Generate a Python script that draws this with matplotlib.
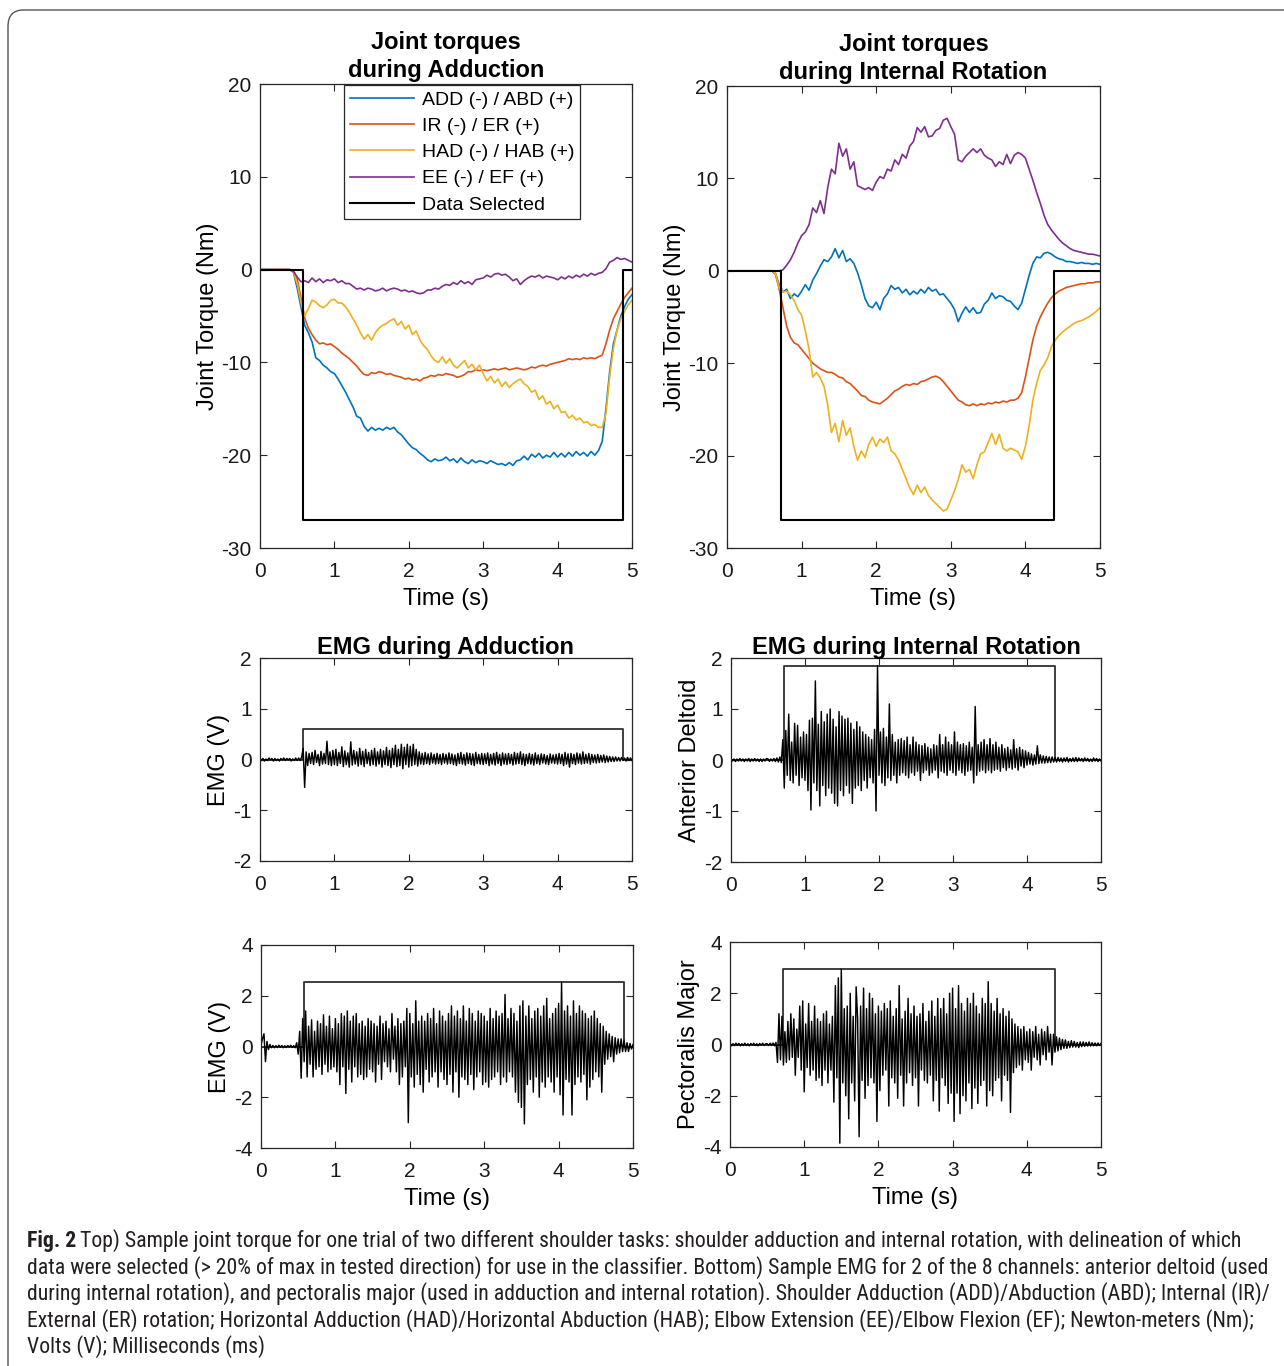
import numpy as np
import matplotlib
matplotlib.use("Agg")
import matplotlib.pyplot as plt
from matplotlib import font_manager
from matplotlib.patches import FancyBboxPatch
from matplotlib.lines import Line2D

plt.rcParams['font.family'] = ['Liberation Sans', 'DejaVu Sans']
plt.rcParams['axes.unicode_minus'] = False

# time grids (torque sampled every 0.05 s, EMG every 0.02 s)
t_torque = np.linspace(0, 5, 101)
t_emg = np.linspace(0, 5, 251)

labels = ['ADD (-) / ABD (+)', 'IR (-) / ER (+)', 'HAD (-) / HAB (+)', 'EE (-) / EF (+)', 'Data Selected']
colors = ['#0072BD', '#D95319', '#EDB120', '#7E2F8E']

# ---- joint torques during adduction (Nm)
add_ADD = [0, 0, 0, 0, 0, 0, 0, 0, 0, -0.3,
           -2.0, -4.0, -6.0, -6.8, -7.8, -9.5, -9.8, -10.3, -10.6, -11.0,
           -11.2, -11.8, -12.5, -13.2, -14.0, -14.8, -15.8, -16.0, -16.9, -17.4,
           -17.0, -17.3, -17.1, -17.3, -17.0, -17.2, -17.0, -17.5, -17.8, -18.3,
           -18.8, -19.2, -19.4, -19.8, -20.1, -20.5, -20.7, -20.4, -20.6, -20.5,
           -20.2, -20.6, -20.4, -20.8, -20.3, -20.7, -20.9, -20.5, -20.8, -20.6,
           -20.7, -20.9, -20.6, -20.8, -21.0, -20.9, -21.1, -20.8, -21.1, -20.6,
           -20.5, -20.1, -20.5, -19.9, -20.2, -19.8, -20.3, -20.0, -20.2, -19.7,
           -20.2, -19.8, -20.2, -19.7, -20.1, -19.6, -20.0, -19.7, -20.1, -19.6,
           -20.0, -19.5, -18.5, -15.0, -11.0, -8.0, -6.5, -5.0, -4.0, -3.2,
           -2.7]
add_IR = [0, 0, 0, 0, 0, 0, 0, 0, 0, -0.1,
          -1.0, -3.0, -5.2, -6.3, -7.0, -7.6, -8.0, -7.9, -8.1, -8.0,
          -8.3, -8.6, -9.0, -9.3, -9.6, -10.0, -10.4, -10.9, -11.3, -11.4,
          -11.1, -11.2, -11.0, -11.1, -11.3, -11.2, -11.4, -11.5, -11.6, -11.8,
          -11.7, -11.9, -11.8, -12.0, -11.7, -11.6, -11.4, -11.5, -11.3, -11.4,
          -11.2, -11.3, -11.4, -11.6, -11.5, -11.3, -11.0, -11.0, -10.8, -10.9,
          -10.8, -10.9, -10.8, -10.7, -10.8, -10.7, -10.6, -10.8, -10.7, -10.6,
          -10.7, -10.8, -10.7, -10.5, -10.6, -10.4, -10.3, -10.4, -10.2, -10.1,
          -10.0, -9.9, -9.8, -9.6, -9.7, -9.6, -9.7, -9.5, -9.6, -9.5,
          -9.6, -9.4, -9.2, -8.0, -6.5, -5.3, -4.5, -3.7, -3.0, -2.5,
          -2.0]
add_HAD = [0, 0, 0, 0, 0, 0, 0, 0, 0, -0.3,
           -1.5, -3.5, -5.0, -4.2, -3.3, -3.5, -3.9, -4.1, -3.8, -3.3,
           -3.2, -3.6, -3.6, -4.0, -4.6, -5.3, -6.0, -6.8, -7.5, -7.0,
           -7.6, -6.8, -6.3, -6.0, -5.8, -5.5, -5.3, -6.0, -5.6, -6.4,
           -6.0, -7.0, -6.6, -7.6, -8.2, -8.6, -9.3, -9.8, -10.0, -9.4,
           -10.1, -9.6, -10.3, -10.6, -10.2, -9.8, -10.6, -10.2, -10.8, -10.3,
           -11.2, -12.0, -11.5, -12.2, -11.8, -12.6, -12.1, -12.7, -12.3, -12.0,
           -11.8, -12.3, -12.6, -13.2, -13.0, -14.0, -13.6, -14.5, -14.2, -15.0,
           -14.6, -15.4, -15.3, -16.0, -15.7, -16.2, -16.0, -16.5, -16.4, -16.8,
           -16.7, -17.0, -17.0, -15.5, -11.5, -8.5, -6.5, -5.3, -4.5, -3.8,
           -3.3]
add_EE = [0, 0, 0, 0, 0, 0, 0, 0, 0, -0.2,
          -0.8, -1.3, -1.2, -1.4, -0.9, -1.3, -1.0, -1.4, -1.1, -1.2,
          -1.0, -1.4, -1.2, -1.5, -1.5, -1.8, -2.1, -2.0, -2.2, -2.0,
          -2.1, -2.3, -2.2, -2.0, -2.3, -2.1, -2.0, -2.1, -2.3, -2.2,
          -2.4, -2.3, -2.5, -2.6, -2.5, -2.2, -2.2, -2.0, -2.1, -1.8,
          -1.6, -1.7, -1.4, -1.6, -1.2, -1.5, -1.3, -1.6, -1.1, -1.0,
          -0.9, -0.6, -0.8, -0.5, -0.4, -0.6, -0.5, -0.8, -1.2, -1.0,
          -1.6, -1.2, -0.9, -0.7, -0.8, -0.6, -0.9, -0.7, -0.8, -0.9,
          -1.1, -0.8, -1.0, -0.7, -0.9, -0.6, -0.8, -0.5, -0.7, -0.4,
          -0.6, -0.4, -0.3, 0.1, 0.8, 1.0, 1.3, 1.1, 1.2, 1.0,
          0.8]

# ---- joint torques during internal rotation (Nm)
ir_ADD = [0, 0, 0, 0, 0, 0, 0, 0, 0, 0,
          0, 0, 0, -0.3, -1.5, -2.3, -2.0, -3.0, -2.5, -2.8,
          -2.2, -1.5, -2.1, -1.0, -0.3, 0.5, 1.2, 1.0, 1.5, 2.4,
          1.4, 2.2, 1.0, 1.3, 0.8, -0.2, -1.5, -3.0, -3.8, -4.0,
          -3.4, -4.2, -3.0, -2.5, -1.6, -2.0, -1.8, -2.4, -2.0, -2.6,
          -2.2, -2.5, -2.0, -2.4, -1.8, -2.2, -2.0, -2.6, -2.5, -3.0,
          -3.5, -4.2, -5.5, -4.6, -3.9, -4.5, -4.0, -4.6, -4.5, -3.6,
          -3.2, -2.4, -3.0, -2.7, -2.8, -3.2, -3.3, -3.8, -4.2, -3.5,
          -2.0, -0.5, 0.8, 1.5, 1.4, 1.9, 2.0, 1.8, 1.5, 1.3,
          1.2, 1.0, 1.0, 0.9, 0.8, 0.9, 0.8, 0.8, 0.7, 0.8,
          0.7]
ir_IR = [0, 0, 0, 0, 0, 0, 0, 0, 0, 0,
         0, 0, 0, -0.4, -2.0, -4.0, -6.0, -7.2, -7.8, -8.0,
         -8.5, -9.0, -9.5, -10.0, -10.3, -10.6, -10.8, -11.0, -11.0, -11.2,
         -11.5, -11.6, -12.0, -12.2, -12.6, -13.0, -13.5, -13.6, -14.0, -14.2,
         -14.3, -14.4, -14.1, -13.8, -13.4, -13.0, -12.8, -12.5, -12.3, -12.4,
         -12.2, -12.3, -12.0, -11.9, -11.7, -11.5, -11.4, -11.6, -12.0, -12.5,
         -13.0, -13.5, -14.0, -14.2, -14.5, -14.6, -14.4, -14.6, -14.4, -14.5,
         -14.3, -14.4, -14.2, -14.3, -14.1, -14.2, -14.0, -14.0, -13.8, -13.2,
         -11.5, -9.5, -7.5, -6.0, -5.0, -4.2, -3.5, -2.9, -2.5, -2.2,
         -2.0, -1.8, -1.7, -1.6, -1.5, -1.4, -1.4, -1.3, -1.3, -1.2,
         -1.2]
ir_HAD = [0, 0, 0, 0, 0, 0, 0, 0, 0, 0,
          0, 0, 0, -0.3, -1.8, -2.3, -2.2, -2.6, -3.2, -4.2,
          -4.8, -6.5, -8.5, -11.5, -11.0, -11.6, -12.5, -14.5, -17.5, -16.5,
          -18.5, -16.2, -17.8, -17.0, -19.0, -20.5, -19.5, -20.2, -18.8, -18.0,
          -19.0, -18.2, -18.6, -18.0, -19.5, -19.8, -20.5, -21.5, -22.5, -23.5,
          -24.2, -23.2, -24.0, -23.4, -24.3, -24.8, -25.2, -25.6, -26.0, -25.8,
          -24.8, -23.8, -22.6, -21.0, -21.8, -21.5, -22.5, -21.0, -19.8, -19.6,
          -18.6, -17.6, -18.8, -17.7, -19.2, -19.5, -19.2, -19.4, -19.6, -20.4,
          -19.0, -16.8, -14.0, -12.2, -10.8, -10.2, -9.4, -8.2, -7.5, -7.0,
          -6.6, -6.3, -6.0, -5.7, -5.5, -5.4, -5.2, -5.0, -4.7, -4.4,
          -4.0]
ir_EE = [0, 0, 0, 0, 0, 0, 0, 0, 0, 0,
         0, 0, 0, 0, 0, 0.1, 0.6, 1.2, 2.0, 3.0,
         3.8, 4.2, 5.0, 6.8, 6.3, 7.6, 6.2, 9.0, 11.0, 10.5,
         13.8, 12.4, 13.2, 11.0, 11.8, 9.2, 9.0, 8.8, 9.0, 8.7,
         9.6, 10.2, 10.0, 11.0, 10.8, 12.0, 11.5, 12.6, 12.2, 13.5,
         14.0, 15.5, 15.0, 15.6, 14.5, 14.6, 15.2, 15.4, 16.3, 16.5,
         15.6, 14.8, 12.0, 11.8, 12.4, 12.8, 13.2, 12.8, 13.2, 12.5,
         12.2, 12.0, 11.3, 11.8, 11.5, 12.6, 11.6, 12.5, 12.8, 12.6,
         12.2, 11.0, 9.8, 8.5, 7.3, 6.0, 5.0, 4.4, 3.9, 3.4,
         3.0, 2.7, 2.4, 2.2, 2.1, 2.0, 1.9, 1.8, 1.8, 1.7,
         1.6]

# selected windows (start s, end s) and marker levels
add_window = (0.58, 4.88)
ir_window = (0.72, 4.38)
torque_sel_level = -27
emg_sel_levels = {'add_ad': 0.6, 'ir_ad': 1.85, 'add_pm': 2.55, 'ir_pm': 2.95}

# ---- EMG (V), one row = 0.5 s
emg_add_deltoid = [
    0.03, -0.02, 0.02, -0.03, 0.01, -0.02, 0.03, -0.01, 0.02, -0.03, 0.02, -0.02, 0.01, -0.03, 0.02, -0.01, 0.03, -0.02, 0.02, -0.01, 0.02, -0.03, 0.01, -0.02, 0.03,
    -0.02, 0.03, -0.02, 0.05, 0.22, -0.55, 0.15, -0.12, 0.12, -0.08, 0.14, -0.1, 0.18, -0.06, 0.1, -0.12, 0.16, -0.09, 0.12, -0.08, 0.36, -0.1, 0.15, -0.12, 0.18,
    -0.1, 0.2, -0.12, 0.14, -0.08, 0.25, -0.14, 0.17, -0.1, 0.13, -0.15, 0.35, -0.11, 0.18, -0.09, 0.15, -0.13, 0.22, -0.1, 0.16, -0.14, 0.2, -0.08, 0.14, -0.12,
    0.18, -0.1, 0.22, -0.13, 0.15, -0.09, 0.2, -0.15, 0.17, -0.1, 0.24, -0.12, 0.18, -0.16, 0.22, -0.1, 0.28, -0.14, 0.2, -0.12, 0.3, -0.18, 0.24, -0.1, 0.3,
    -0.15, 0.26, -0.12, 0.3, -0.1, 0.2, -0.13, 0.15, -0.09, 0.12, -0.1, 0.14, -0.08, 0.11, -0.1, 0.13, -0.07, 0.1, -0.09, 0.12, -0.08, 0.1, -0.1, 0.12, -0.07,
    0.1, -0.09, 0.13, -0.08, 0.11, -0.1, 0.09, -0.12, 0.12, -0.08, 0.14, -0.09, 0.1, -0.11, 0.13, -0.08, 0.12, -0.1, 0.11, -0.12, 0.14, -0.08, 0.1, -0.09, 0.12,
    -0.1, 0.11, -0.08, 0.13, -0.12, 0.1, -0.09, 0.12, -0.11, 0.14, -0.08, 0.1, -0.12, 0.13, -0.09, 0.11, -0.1, 0.12, -0.08, 0.1, -0.11, 0.14, -0.09, 0.12, -0.08,
    0.15, -0.1, 0.11, -0.12, 0.1, -0.08, 0.12, -0.09, 0.1, -0.11, 0.13, -0.08, 0.09, -0.1, 0.11, -0.07, 0.1, -0.09, 0.08, -0.1, 0.11, -0.07, 0.09, -0.08, 0.1,
    -0.09, 0.12, -0.08, 0.1, -0.12, 0.14, -0.09, 0.11, -0.15, 0.12, -0.08, 0.1, -0.1, 0.13, -0.07, 0.11, -0.09, 0.15, -0.08, 0.1, -0.07, 0.12, -0.09, 0.1, -0.06,
    0.09, -0.07, 0.1, -0.06, 0.08, -0.05, 0.09, -0.06, 0.07, -0.05, 0.06, -0.04, 0.05, -0.04, 0.05, -0.03, 0.04, -0.03, 0.04, -0.02, 0.03, -0.03, 0.04, -0.02, 0.03,
    -0.02]
emg_ir_deltoid = [
    0.03, -0.02, 0.02, -0.03, 0.02, -0.02, 0.03, -0.02, 0.02, -0.03, 0.02, -0.02, 0.03, -0.03, 0.02, -0.02, 0.03, -0.02, 0.02, -0.03, 0.02, -0.03, 0.02, -0.02, 0.03,
    0.02, -0.03, 0.02, -0.02, 0.03, -0.03, 0.04, -0.04, 0.06, -0.05, 0.4, -0.55, 0.58, -0.3, 0.9, -0.4, 0.35, -0.45, 0.72, -0.3, 0.68, -0.5, 0.45, -0.35, 0.55,
    -0.4, 0.5, -0.6, 0.78, -0.98, 0.82, -0.45, 1.55, -0.6, 0.7, -0.9, 0.95, -0.5, 0.75, -0.7, 0.9, -0.55, 1.0, -0.65, 0.8, -0.85, 0.65, -0.9, 0.95, -0.6,
    0.86, -0.7, 0.8, -0.5, 0.82, -0.65, 0.72, -0.85, 0.6, -0.55, 0.75, -0.5, 0.65, -0.6, 0.55, -0.4, 0.5, -0.55, 0.45, -0.35, 0.4, -0.45, 0.6, -1.0, 1.85,
    -0.3, 0.55, -0.45, 0.62, -0.5, 0.45, -0.35, 1.1, -0.4, 0.5, -0.3, 0.35, -0.45, 0.4, -0.3, 0.42, -0.25, 0.38, -0.3, 0.45, -0.35, 0.3, -0.25, 0.45, -0.3,
    0.35, -0.22, 0.3, -0.4, 0.28, -0.25, 0.32, -0.2, 0.25, -0.3, 0.22, -0.25, 0.3, -0.2, 0.28, -0.35, 0.5, -0.22, 0.3, -0.25, 0.45, -0.3, 0.35, -0.2, 0.3,
    -0.25, 0.55, -0.3, 0.35, -0.2, 0.3, -0.25, 0.32, -0.3, 0.28, -0.22, 0.35, -0.2, 0.25, -0.45, 1.05, -0.3, 0.3, -0.22, 0.35, -0.2, 0.4, -0.25, 0.3, -0.2,
    0.42, -0.25, 0.3, -0.2, 0.35, -0.18, 0.25, -0.22, 0.3, -0.15, 0.22, -0.2, 0.25, -0.15, 0.2, -0.18, 0.4, -0.15, 0.22, -0.2, 0.25, -0.12, 0.2, -0.15, 0.18,
    -0.1, 0.15, -0.08, 0.12, -0.1, 0.1, -0.08, 0.28, -0.07, 0.1, -0.06, 0.08, -0.06, 0.07, -0.05, 0.06, -0.05, 0.06, -0.04, 0.05, -0.04, 0.05, -0.03, 0.04, -0.04,
    0.04, -0.03, 0.05, -0.04, 0.03, -0.03, 0.04, -0.03, 0.05, -0.03, 0.04, -0.02, 0.03, -0.03, 0.04, -0.02, 0.03, -0.03, 0.02, -0.03, 0.04, -0.02, 0.03, -0.03, 0.02,
    -0.02]
emg_add_pector = [
    0.05, 0.3, 0.5, -0.6, 0.2, -0.12, 0.08, -0.05, 0.04, -0.05, 0.03, -0.04, 0.05, -0.03, 0.04, -0.05, 0.03, -0.04, 0.04, -0.03, 0.05, -0.04, 0.03, -0.05, 0.15,
    -0.3, 0.6, -1.25, 1.1, -0.6, 1.4, -1.2, 0.8, -0.7, 1.05, -1.2, 0.6, -0.9, 1.0, -0.8, 0.9, -1.1, 1.25, -0.7, 0.8, -1.0, 1.2, -0.9, 0.7, -0.8,
    1.1, -1.0, 0.9, -1.5, 1.3, -0.8, 1.2, -1.85, 1.4, -0.9, 1.0, -1.4, 1.2, -0.8, 1.3, -1.2, 0.9, -1.1, 1.0, -1.3, 0.8, -1.2, 1.1, -0.9, 1.0,
    -1.0, 0.9, -1.4, 0.8, -0.7, 1.2, -1.3, 0.9, -0.6, 1.0, -0.8, 0.7, -1.0, 1.3, -0.5, 0.8, -1.0, 1.1, -1.5, 0.9, -1.2, 1.0, -0.8, 1.5, -3.0,
    1.3, -1.2, 0.9, -1.6, 1.8, -1.1, 1.0, -1.5, 1.2, -1.8, 1.0, -0.9, 1.3, -1.4, 1.1, -1.2, 1.5, -1.0, 0.9, -1.6, 1.4, -1.0, 1.2, -1.3, 1.0,
    -1.5, 1.3, -1.1, 1.6, -1.8, 1.2, -1.0, 1.4, -2.0, 1.1, -1.2, 1.6, -1.3, 1.0, -1.5, 1.5, -1.1, 1.3, -1.7, 1.0, -1.2, 1.4, -1.0, 1.3, -1.5,
    1.2, -1.4, 1.0, -1.6, 1.5, -1.3, 1.1, -1.2, 1.4, -1.0, 1.2, -1.5, 1.3, -1.2, 2.05, -1.4, 1.1, -1.0, 1.5, -1.2, 1.3, -1.8, 1.0, -2.2, 1.6,
    -2.4, 1.8, -3.05, 1.2, -1.5, 1.6, -1.3, 1.1, -1.8, 1.4, -1.2, 1.5, -2.0, 1.2, -1.4, 1.6, -1.6, 1.9, -1.2, 1.1, -1.4, 1.3, -1.8, 1.5, -1.2,
    1.7, -1.9, 2.55, -2.7, 1.4, -1.3, 1.6, -1.4, 1.2, -2.7, 1.8, -1.5, 1.3, -1.2, 1.6, -1.4, 1.4, -1.1, 1.3, -2.1, 1.1, -1.6, 1.2, -1.3, 1.4,
    -1.0, 1.1, -1.2, 0.9, -1.8, 0.8, -0.7, 0.6, -0.5, 0.5, -0.4, 0.4, -0.6, 0.35, -0.3, 0.3, -0.25, 0.3, -0.2, 0.25, -0.2, 0.15, -0.2, 0.12, -0.1,
    0.08]
emg_ir_pector = [
    0.04, -0.05, 0.03, -0.04, 0.05, -0.03, 0.04, -0.05, 0.03, -0.04, 0.05, -0.04, 0.03, -0.05, 0.04, -0.03, 0.05, -0.04, 0.03, -0.05, 0.04, -0.03, 0.05, -0.04, 0.03,
    0.03, -0.04, 0.05, -0.04, 0.06, -0.05, 0.08, -0.7, 1.2, -0.6, 1.1, -0.8, 0.5, -0.7, 0.9, -0.6, 1.2, -0.5, 1.0, -1.2, 0.6, -0.5, 1.5, -1.0, 1.7,
    -1.85, 0.8, -0.9, 1.6, -1.2, 0.9, -1.0, 1.5, -1.4, 1.0, -1.3, 0.9, -1.6, 1.2, -1.0, 1.3, -1.5, 0.8, -1.0, 1.1, -2.25, 2.3, -1.3, 2.6, -3.85,
    2.95, -1.5, 1.4, -2.0, 1.5, -2.9, 2.0, -1.5, 1.1, -2.2, 2.25, 1.0, -3.6, 1.5, -1.4, 2.2, -2.1, 1.4, -1.6, 2.0, -1.3, 1.8, -1.5, 1.2, -3.0,
    1.5, -1.8, 1.3, -1.2, 1.6, -1.0, 1.4, -2.4, 1.7, -1.3, 1.1, -1.5, 1.4, -2.1, 2.3, -1.2, 1.0, -2.4, 1.3, -1.5, 1.8, -1.1, 1.2, -1.6, 1.5,
    -1.3, 1.1, -2.4, 1.2, -1.0, 1.6, -1.4, 0.9, -1.5, 1.3, -1.2, 1.7, -2.2, 1.1, -1.4, 1.8, -2.6, 1.4, -1.3, 1.8, -1.6, 1.2, -2.3, 2.0, -1.9,
    2.2, -3.0, 1.4, -1.9, 2.3, -2.7, 1.6, -2.0, 1.3, -2.2, 1.8, -1.5, 1.6, -2.5, 2.0, -1.7, 1.5, -2.3, 1.2, -1.6, 1.8, -1.4, 1.6, -2.4, 2.45,
    -1.8, 1.6, -2.0, 1.3, -1.4, 1.8, -1.3, 1.2, -2.2, 1.4, -1.2, 1.1, -1.4, 1.3, -2.65, 1.0, -1.1, 0.8, -0.9, 0.7, -0.8, 0.6, -1.0, 0.7, -0.6,
    0.5, -0.7, 0.6, -1.0, 0.5, -0.5, 0.7, -0.6, 0.4, -0.8, 0.6, -0.4, 0.5, -0.6, 0.7, -0.3, 0.4, -0.8, 0.4, -0.3, 0.3, -0.25, 0.25, -0.2, 0.2,
    -0.15, 0.18, -0.15, 0.12, -0.12, 0.15, -0.1, 0.12, -0.1, 0.08, -0.12, 0.1, -0.08, 0.1, -0.07, 0.08, -0.06, 0.1, -0.06, 0.07, -0.05, 0.06, -0.05, 0.06, -0.04,
    0.04]

caption_lines = [
    "Top) Sample joint torque for one trial of two different shoulder tasks: shoulder adduction and internal rotation, with delineation of which",
    "data were selected (> 20% of max in tested direction) for use in the classifier. Bottom) Sample EMG for 2 of the 8 channels: anterior deltoid (used",
    "during internal rotation), and pectoralis major (used in adduction and internal rotation). Shoulder Adduction (ADD)/Abduction (ABD); Internal (IR)/",
    "External (ER) rotation; Horizontal Adduction (HAD)/Horizontal Abduction (HAB); Elbow Extension (EE)/Elbow Flexion (EF); Newton-meters (Nm);",
    "Volts (V); Milliseconds (ms)",
]

W, H = 1284, 1366
fig = plt.figure(figsize=(W / 100, H / 100), dpi=100)
AX_COL = '#262626'
FS = 17


def add_ax(x0, y0, x1, y1):
    return fig.add_axes([x0 / W, 1 - y1 / H, (x1 - x0) / W, (y1 - y0) / H])


def style(ax, ylim, yticks):
    ax.set_xlim(0, 5)
    ax.set_ylim(*ylim)
    ax.set_xticks(range(6))
    ax.set_yticks(yticks)
    ax.tick_params(direction='in', top=True, right=True, length=5, width=0.8,
                   labelsize=15, color=AX_COL, labelcolor='#1a1a1a')
    ax.tick_params(axis='x', pad=10)
    ax.tick_params(axis='y', pad=6)
    for s in ax.spines.values():
        s.set_color(AX_COL)
        s.set_linewidth(0.9)


def window_line(window, level):
    a, b = window
    return [0, a, a, b, b, 5], [0, 0, level, level, 0, 0]


def torque_panel(ax, series, window, title, legend=False):
    for vals, c in zip(series, colors):
        ax.plot(t_torque, vals, color=c, lw=1.2)
    sx, sy = window_line(window, torque_sel_level)
    ax.plot(sx, sy, color='black', lw=1.5)
    style(ax, (-30, 20), [-30, -20, -10, 0, 10, 20])
    ax.set_title(title, fontsize=FS, fontweight='bold', pad=5, linespacing=1.3)
    ax.set_ylabel('Joint Torque (Nm)', fontsize=FS, labelpad=2)
    ax.set_xlabel('Time (s)', fontsize=FS, labelpad=5)
    if legend:
        handles = [Line2D([], [], color=c, lw=1.2) for c in colors]
        handles.append(Line2D([], [], color='black', lw=1.5))
        leg = ax.legend(handles, labels, loc='upper left', bbox_to_anchor=(0.226, 0.997),
                        fontsize=14, fancybox=False, edgecolor=AX_COL, framealpha=1,
                        handlelength=3.3, handletextpad=0.4, labelspacing=0.44,
                        borderpad=0.3, borderaxespad=0)
        leg.get_frame().set_linewidth(0.9)


def emg_panel(ax, vals, window, level, ylim, yticks, ylabel, title=None, xlabel=False):
    sx, sy = window_line(window, level)
    ax.plot(sx, sy, color='#303030', lw=1.3)
    ax.plot(t_emg, vals, color='black', lw=1.05)
    style(ax, ylim, yticks)
    ax.set_ylabel(ylabel, fontsize=FS, labelpad=2)
    if title:
        ax.set_title(title, fontsize=FS, fontweight='bold', pad=3)
    if xlabel:
        ax.set_xlabel('Time (s)', fontsize=FS, labelpad=5)


ax1 = add_ax(260, 84, 632, 548)
torque_panel(ax1, [add_ADD, add_IR, add_HAD, add_EE], add_window,
             'Joint torques\nduring Adduction', legend=True)
ax2 = add_ax(727, 86, 1100, 548)
torque_panel(ax2, [ir_ADD, ir_IR, ir_HAD, ir_EE], ir_window,
             'Joint torques\nduring Internal Rotation')

ax3 = add_ax(260, 658, 632, 861)
emg_panel(ax3, emg_add_deltoid, add_window, emg_sel_levels['add_ad'], (-2, 2),
          [-2, -1, 0, 1, 2], 'EMG (V)', title='EMG during Adduction')
ax4 = add_ax(731, 658, 1101, 862)
emg_panel(ax4, emg_ir_deltoid, ir_window, emg_sel_levels['ir_ad'], (-2, 2),
          [-2, -1, 0, 1, 2], 'Anterior Deltoid', title='EMG during Internal Rotation')
ax5 = add_ax(261, 945, 633, 1148)
emg_panel(ax5, emg_add_pector, add_window, emg_sel_levels['add_pm'], (-4, 4),
          [-4, -2, 0, 2, 4], 'EMG (V)', xlabel=True)
ax6 = add_ax(730, 942, 1101, 1147)
emg_panel(ax6, emg_ir_pector, ir_window, emg_sel_levels['ir_pm'], (-4, 4),
          [-4, -2, 0, 2, 4], 'Pectoralis Major', xlabel=True)

# rounded frame around the whole figure (runs off the right and bottom edges)
frame = FancyBboxPatch((8 / W, -0.05), 1.1, 1 - 10 / H + 0.05, transform=fig.transFigure,
                       boxstyle='round,pad=0,rounding_size=0.012', facecolor='none',
                       edgecolor='#555555', lw=1.0)
fig.add_artist(frame)

# caption: pick a narrow face if one is installed
installed = {(f.name, f.stretch) for f in font_manager.fontManager.ttflist}
names = {n for n, s in installed}
cap_kw = dict(family=['Liberation Sans', 'DejaVu Sans'])
for cand in ['Liberation Sans Narrow', 'Roboto Condensed', 'Open Sans Condensed', 'Noto Sans Condensed']:
    if cand in names:
        cap_kw = dict(family=[cand, 'DejaVu Sans'])
        break
else:
    for n, s in installed:
        if s in ('condensed', 'semi-condensed') and n in ('DejaVu Sans', 'Noto Sans', 'Open Sans', 'Roboto'):
            cap_kw = dict(family=[n], stretch=s)
            break

cap_color = '#231f20'
cap_y = [1241, 1268, 1294, 1321, 1347]
r = fig.canvas.get_renderer()
# size so that the widest line spans the caption width (27..1272 px)
probe = fig.text(0, 0, caption_lines[1], fontsize=13, **cap_kw)
cap_fs = min(16.5, 13 * 1243 / probe.get_window_extent(renderer=r).width)
probe.remove()

bold = fig.text(27 / W, 1 - cap_y[0] / H, 'Fig. 2', fontsize=cap_fs, fontweight='bold',
                color=cap_color, va='center', ha='left', **cap_kw)
bb = bold.get_window_extent(renderer=r)
fig.text((bb.x1 + 4) / W, 1 - cap_y[0] / H, caption_lines[0], fontsize=cap_fs,
         color=cap_color, va='center', ha='left', **cap_kw)
for line, y in zip(caption_lines[1:], cap_y[1:]):
    fig.text(27 / W, 1 - y / H, line, fontsize=cap_fs, color=cap_color,
             va='center', ha='left', **cap_kw)

fig.savefig('out.png', dpi=100)
